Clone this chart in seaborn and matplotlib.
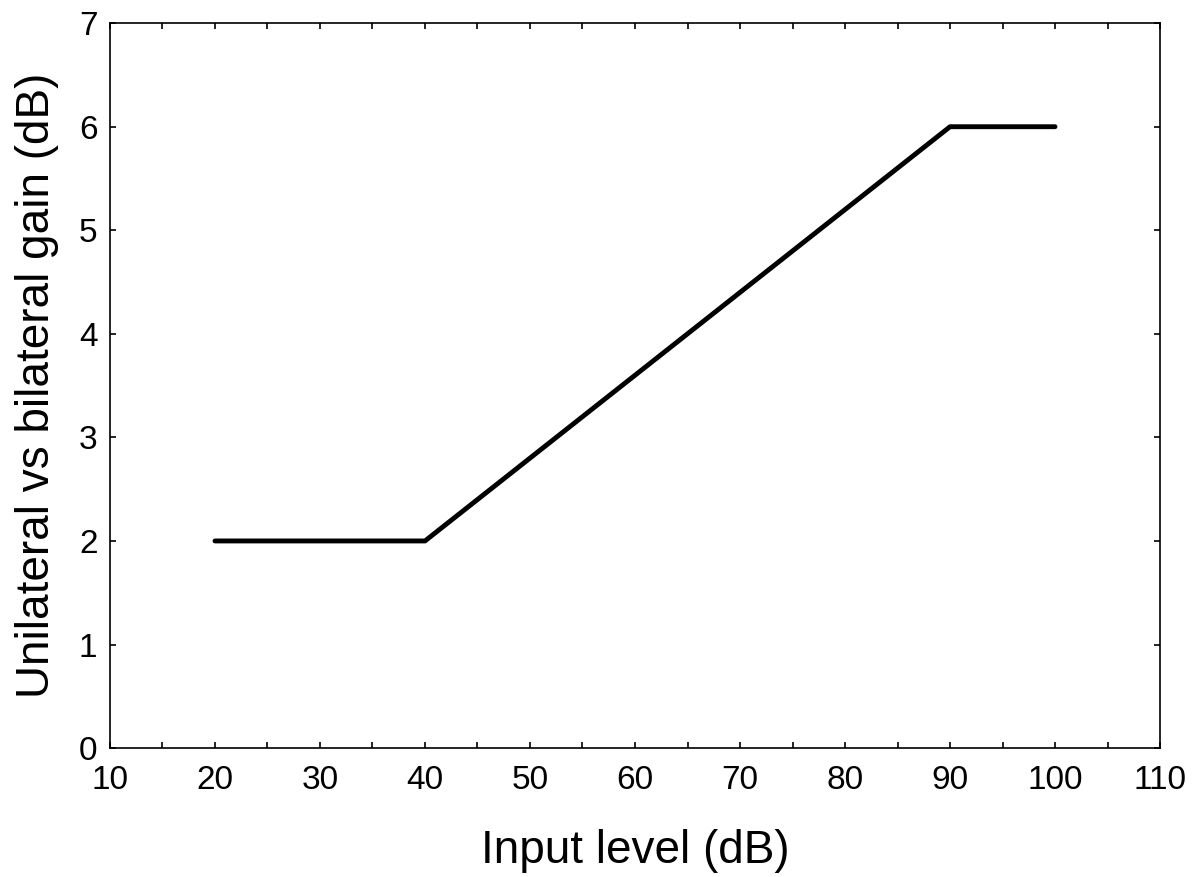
import matplotlib
matplotlib.use("Agg")
import matplotlib.pyplot as plt
import seaborn as sns
import pandas as pd
from matplotlib.ticker import MultipleLocator

input_level = [20, 40, 90, 100]
gain = [2, 2, 6, 6]

df = pd.DataFrame({"input_level": input_level, "gain": gain})

sns.set_style("ticks")
plt.rcParams['font.family'] = ['Liberation Sans', 'DejaVu Sans']
plt.rcParams['text.color'] = 'black'
plt.rcParams['axes.labelcolor'] = 'black'
plt.rcParams['xtick.color'] = 'black'
plt.rcParams['ytick.color'] = 'black'
plt.rcParams['axes.edgecolor'] = 'black'

fig = plt.figure(figsize=(12.03, 8.77), dpi=100)
ax = fig.add_axes([0.0914, 0.147, 0.8729, 0.8266])

sns.lineplot(data=df, x="input_level", y="gain", color="black", linewidth=3.5, ax=ax)

ax.set_xlim(10, 110)
ax.set_ylim(0, 7)
ax.xaxis.set_major_locator(MultipleLocator(10))
ax.xaxis.set_minor_locator(MultipleLocator(5))
ax.yaxis.set_major_locator(MultipleLocator(1))
ax.tick_params(which="both", direction="in", top=True, right=True, length=4,
               width=1.2, labelsize=24, pad=9)
ax.tick_params(axis="x", pad=12)
for s in ax.spines.values():
    s.set_linewidth(1.2)
    s.set_visible(True)

ax.set_xlabel("Input level (dB)", size=33, labelpad=24)
ax.set_ylabel("Unilateral vs bilateral gain (dB)", size=33, labelpad=14)

fig.savefig("out.png", dpi=100)
